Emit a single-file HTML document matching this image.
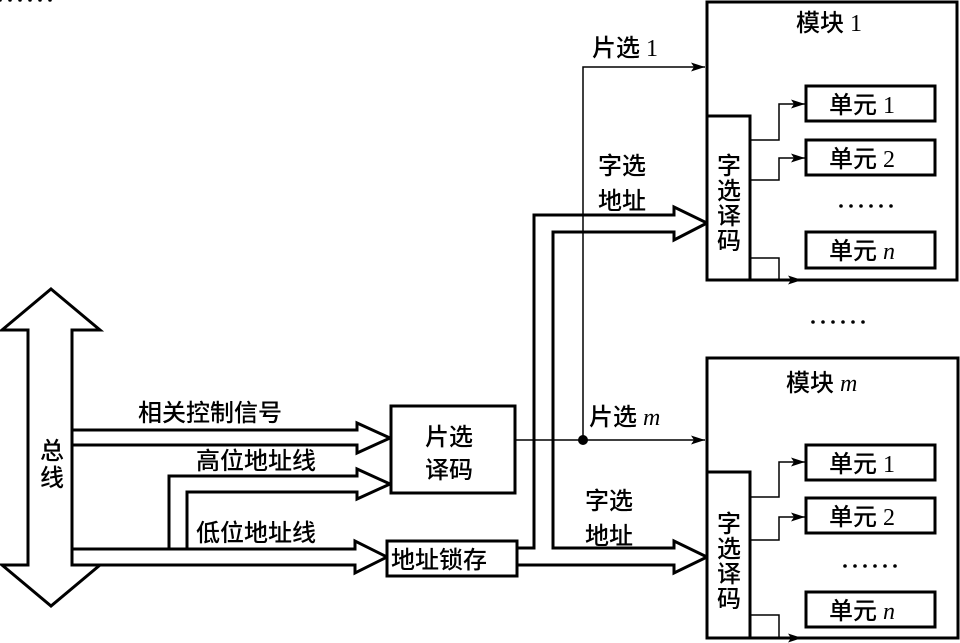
<!DOCTYPE html>
<html><head><meta charset="utf-8"><style>
html,body{margin:0;padding:0;background:#fff;}
svg{display:block;}
text{font-family:"Liberation Serif","Noto Sans CJK SC",serif;fill:#000;}
</style></head><body>
<svg width="960" height="643" viewBox="0 0 960 643" xmlns="http://www.w3.org/2000/svg">
<defs><marker id="a" markerWidth="14" markerHeight="9" refX="14" refY="4.5" orient="auto" markerUnits="userSpaceOnUse"><path d="M0,0 L14,4.5 L0,9 L3,4.5 Z" fill="#000"/></marker></defs>
<g fill="none" stroke="#000" stroke-width="3">
<path d="M51,289 L100,330 L72,330 L72,565 L100,565 L51,606 L2,565 L28,565 L28,330 L2,330 Z" fill="#fff"/>
<path d="M72,430 L357,430 L357,423 L390,438 L357,453 L357,445 L72,445"/>
<path d="M169,549 L169,476 L357,476 L357,469 L390,484 L357,499 L357,492 L187,492 L187,549"/>
<path d="M72,549 L355,549 L355,541 L387,557 L355,573 L355,565 L72,565"/>
<rect x="391" y="406" width="124" height="87" fill="#fff"/>
<rect x="387" y="541" width="130" height="35" fill="#fff"/>
<path d="M517,548 L534,548 L534,215 L674,215 L674,207 L707,223 L674,240 L674,232 L553,232 L553,548 L674,548 L674,541 L707,557 L674,573 L674,565 L517,565"/>
<rect x="707" y="2" width="250" height="278"/>
<rect x="707" y="116" width="43" height="164" fill="#fff"/>
<rect x="806" y="86" width="129" height="35"/>
<rect x="806" y="140" width="129" height="35"/>
<rect x="806" y="232" width="129" height="36"/>
<rect x="707" y="358" width="251" height="280"/>
<rect x="707" y="472" width="43" height="166" fill="#fff"/>
<rect x="806" y="445" width="129" height="35"/>
<rect x="806" y="498" width="129" height="35"/>
<rect x="806" y="592" width="129" height="35"/>
</g>
<g fill="none" stroke="#000" stroke-width="1.5">
<path d="M515,440 L705,440" marker-end="url(#a)"/>
<path d="M583,440 L583,67 L705,67" marker-end="url(#a)"/>
<path d="M750,140 L779,140 L779,104 L805,104" marker-end="url(#a)"/>
<path d="M750,180 L779,180 L779,158 L805,158" marker-end="url(#a)"/>
<path d="M750,258 L779,258 L779,280 L802,280" marker-end="url(#a)"/>
<path d="M750,497 L779,497 L779,462 L805,462" marker-end="url(#a)"/>
<path d="M750,540 L779,540 L779,517 L805,517" marker-end="url(#a)"/>
<path d="M750,615 L779,615 L779,638 L802,638" marker-end="url(#a)"/>
</g>
<circle cx="583" cy="440" r="5" fill="#000"/>
<g font-size="24" font-weight="500">
<text x="40" y="459">总</text><text x="40" y="486">线</text>
<text x="138" y="421">相关控制信号</text>
<text x="196" y="469">高位地址线</text>
<text x="196" y="541">低位地址线</text>
<text x="425" y="445">片选</text><text x="425" y="478">译码</text>
<text x="391" y="568">地址锁存</text>
<text x="592" y="56">片选 1</text>
<text x="589" y="425">片选 <tspan font-style="italic">m</tspan></text>
<text x="598" y="174">字选</text><text x="598" y="209">地址</text>
<text x="585" y="509">字选</text><text x="585" y="544">地址</text>
<text x="796" y="31">模块 1</text>
<text x="786" y="391">模块 <tspan font-style="italic">m</tspan></text>
<text x="717" y="174">字</text><text x="717" y="199">选</text><text x="717" y="224">译</text><text x="717" y="249">码</text>
<text x="717" y="532">字</text><text x="717" y="557">选</text><text x="717" y="582">译</text><text x="717" y="607">码</text>
<text x="829" y="113">单元 1</text><text x="829" y="167">单元 2</text><text x="829" y="259">单元 <tspan font-style="italic">n</tspan></text>
<text x="829" y="472">单元 1</text><text x="829" y="525">单元 2</text><text x="829" y="619">单元 <tspan font-style="italic">n</tspan></text>
</g>
<g fill="#000">
<g id="d"><circle cx="0" cy="0" r="1.8"/><circle cx="10" cy="0" r="1.8"/><circle cx="20" cy="0" r="1.8"/><circle cx="30" cy="0" r="1.8"/><circle cx="40" cy="0" r="1.8"/><circle cx="50" cy="0" r="1.8"/></g>
</g>
<use href="#d" x="841" y="206"/>
<use href="#d" x="813" y="322"/>
<use href="#d" x="845" y="566"/>
</svg>
</body></html>
